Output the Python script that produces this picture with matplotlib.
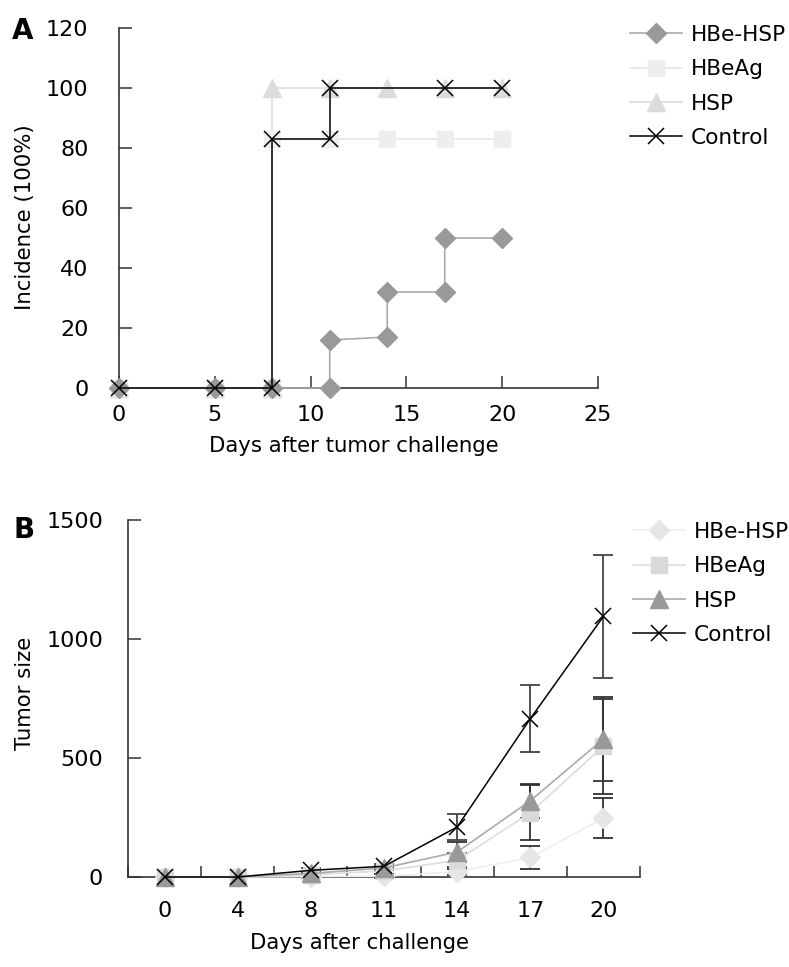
import matplotlib
matplotlib.use("Agg")
import matplotlib.pyplot as plt
import numpy as np

# ---- panel A: incidence (step data, repeated x for the jumps)
a_labels = ["HBe-HSP", "HBeAg", "HSP", "Control"]
a_days_hbehsp = [0, 5, 8, 11, 11, 14, 14, 17, 17, 20]
a_hbehsp = [0, 0, 0, 0, 16, 17, 32, 32, 50, 50]
a_days_hbeag = [0, 5, 8, 8, 11, 14, 17, 20]
a_hbeag = [0, 0, 0, 83, 83, 83, 83, 83]
a_days_hsp = [0, 5, 8, 8, 11, 14, 17, 20]
a_hsp = [0, 0, 0, 100, 100, 100, 100, 100]
a_days_ctrl = [0, 5, 8, 8, 11, 11, 17, 20]
a_ctrl = [0, 0, 0, 83, 83, 100, 100, 100]
a_xticks = [0, 5, 10, 15, 20, 25]
a_yticks = [0, 20, 40, 60, 80, 100, 120]

# ---- panel B: tumour size (category axis)
b_days = ["0", "4", "8", "11", "14", "17", "20"]
b_hbehsp = [0, 0, 2, 3, 22, 82, 248]
b_hbehsp_err = [0, 0, 5, 8, 12, 48, 85]
b_hbeag = [0, 0, 10, 25, 70, 270, 550]
b_hbeag_err = [0, 0, 8, 12, 30, 115, 200]
b_hsp = [0, 0, 15, 38, 105, 320, 580]
b_hsp_err = [0, 0, 8, 10, 40, 70, 175]
b_ctrl = [0, 0, 28, 45, 210, 665, 1095]
b_ctrl_err = [0, 0, 8, 10, 56, 140, 258]
b_yticks = [0, 500, 1000, 1500]

plt.rcParams.update({"font.family": "DejaVu Sans", "font.size": 15.3,
                     "xtick.labelsize": 16, "ytick.labelsize": 16,
                     "legend.fontsize": 15.6})

fig = plt.figure(figsize=(7.89, 9.67), dpi=100)


def style_axes(ax):
    for s in ("top", "right"):
        ax.spines[s].set_visible(False)
    for s in ("left", "bottom"):
        ax.spines[s].set_linewidth(1.2)
        ax.spines[s].set_color("#333333")


# ================= A =================
axA = fig.add_axes([119 / 789, 1 - 388 / 967, 479 / 789, 360 / 967])
style_axes(axA)
common = dict(clip_on=False)
axA.plot(a_days_hsp, a_hsp, color="#dddddd", lw=1.2, marker="^", ms=13,
         mfc="#dcdcdc", mec="#dcdcdc", zorder=3, **common)
axA.plot(a_days_hbeag, a_hbeag, color="#e6e6e6", lw=1.2, marker="s", ms=11,
         mfc="#eeeeee", mec="#eeeeee", zorder=3, **common)
axA.plot(a_days_hbehsp, a_hbehsp, color="#aaaaaa", lw=1.2, marker="D", ms=10,
         mfc="#999999", mec="#999999", zorder=4, **common)
axA.plot(a_days_ctrl, a_ctrl, color="black", lw=1.1, marker="x", ms=11,
         mew=1.1, zorder=5, **common)
axA.set_xlim(0, 25)
axA.set_ylim(0, 120)
axA.set_xticks(a_xticks)
axA.set_yticks(a_yticks)
axA.tick_params(axis="both", direction="in", length=9, width=1.1, color="#333333")
axA.tick_params(axis="y", pad=22)
axA.tick_params(axis="x", pad=12)
axA.set_xlabel("Days after tumor challenge")
axA.xaxis.set_label_coords(0.49, -0.161)
axA.xaxis.label.set_va("center")
axA.set_ylabel("Incidence (100%)")
axA.yaxis.set_label_coords(-0.176, 0.475)
fig.text(12 / 789, 1 - 31 / 967, "A", fontsize=20, fontweight="heavy", va="center", ha="left")

hA = [
    plt.Line2D([], [], color="#aaaaaa", lw=1.2, marker="D", ms=10, mfc="#999999", mec="#999999"),
    plt.Line2D([], [], color="#e6e6e6", lw=1.2, marker="s", ms=11, mfc="#eeeeee", mec="#eeeeee"),
    plt.Line2D([], [], color="#dddddd", lw=1.2, marker="^", ms=13, mfc="#dcdcdc", mec="#dcdcdc"),
    plt.Line2D([], [], color="black", lw=1.1, marker="x", ms=11, mew=1.1),
]
fig.legend(hA, a_labels, loc="upper left", bbox_to_anchor=(630 / 789, 1 - 25 / 967),
           frameon=False, handlelength=2.4, handletextpad=0.4, labelspacing=0.66,
           borderpad=0, borderaxespad=0)

# ================= B =================
axB = fig.add_axes([128 / 789, 1 - 877 / 967, 512 / 789, 357 / 967])
style_axes(axB)
x = np.arange(len(b_days))
series_b = [
    (b_hbehsp, b_hbehsp_err, "#eeeeee", "#e6e6e6", "D", 10, 3),
    (b_hbeag, b_hbeag_err, "#dddddd", "#d9d9d9", "s", 11, 4),
    (b_hsp, b_hsp_err, "#aaaaaa", "#999999", "^", 13, 5),
]
for vals, err, lc, mc, mk, ms, z in series_b:
    axB.errorbar(x, vals, yerr=err, fmt="none", ecolor="#333333", elinewidth=1.3,
                 capsize=7.5, capthick=1.3, zorder=2, clip_on=False)
for vals, err, lc, mc, mk, ms, z in series_b:
    axB.plot(x, vals, color=lc, lw=1.2, marker=mk, ms=ms, mfc=mc, mec=mc,
             zorder=z, clip_on=False)
axB.errorbar(x, b_ctrl, yerr=b_ctrl_err, fmt="none", ecolor="#444444", elinewidth=1.3,
             capsize=7.5, capthick=1.3, zorder=2, clip_on=False)
axB.plot(x, b_ctrl, color="black", lw=1.1, marker="x", ms=11, mew=1.1, zorder=6,
         clip_on=False)
axB.set_xlim(-0.5, len(b_days) - 0.5)
axB.set_ylim(0, 1500)
axB.set_yticks(b_yticks)
axB.set_xticks(x)
axB.set_xticklabels(b_days)
axB.set_xticks(np.arange(-0.5, len(b_days)), minor=True)
axB.tick_params(axis="x", which="major", length=0, pad=17)
axB.tick_params(axis="x", which="minor", direction="in", length=8, width=1.1, color="#333333")
axB.tick_params(axis="y", direction="in", length=9, width=1.1, color="#333333", pad=18)
axB.set_xlabel("Days after challenge")
axB.xaxis.set_label_coords(0.453, -0.186)
axB.xaxis.label.set_va("center")
axB.set_ylabel("Tumor size")
axB.yaxis.set_label_coords(-0.182, 0.515)
fig.text(14 / 789, 1 - 530 / 967, "B", fontsize=20, fontweight="heavy", va="center", ha="left")

hB = [
    plt.Line2D([], [], color="#eeeeee", lw=1.2, marker="D", ms=10, mfc="#e6e6e6", mec="#e6e6e6"),
    plt.Line2D([], [], color="#dddddd", lw=1.2, marker="s", ms=11, mfc="#d9d9d9", mec="#d9d9d9"),
    plt.Line2D([], [], color="#aaaaaa", lw=1.2, marker="^", ms=13, mfc="#999999", mec="#999999"),
    plt.Line2D([], [], color="black", lw=1.1, marker="x", ms=11, mew=1.1),
]
fig.legend(hB, a_labels, loc="upper left", bbox_to_anchor=(633 / 789, 1 - 522 / 967),
           frameon=False, handlelength=2.4, handletextpad=0.4, labelspacing=0.66,
           borderpad=0, borderaxespad=0)

fig.savefig("out.png", dpi=100)
